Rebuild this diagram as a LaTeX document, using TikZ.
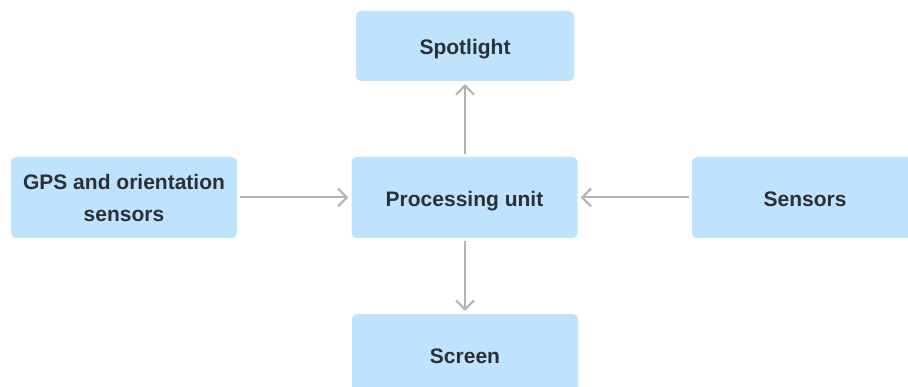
\documentclass[tikz,border=0pt]{standalone}
\usepackage{fontspec}
\setmainfont{Liberation Sans}
\usepackage{tikz}
\usetikzlibrary{positioning, arrows.meta}

\definecolor{boxblue}{HTML}{BFE3FD}
\definecolor{boxtext}{HTML}{2B3038}
\definecolor{arrgray}{HTML}{B4B4B4}

\begin{document}
\begin{tikzpicture}[
  x=1pt, y=1pt,
  >={Straight Barb[length=9pt, width=18pt]},
  item/.style={fill=boxblue, rounded corners=5pt, minimum width=226pt,
    minimum height=81pt, align=center, text=boxtext,
    font=\fontsize{21}{32}\selectfont\bfseries, inner sep=0pt},
  oneline/.style={text height=18pt, text depth=0pt},
  arr/.style={->, line width=2pt, arrgray, shorten <=3pt, shorten >=3pt},
]

% --- Canvas ---
\useasboundingbox (0,0) rectangle (908,-387);
\clip (0,0) rectangle (908,-387);

% --- Boxes ---
\node[item, oneline] (proc) at (464.5,-197.5) {Processing unit};
\node[item, oneline, minimum width=218pt, minimum height=70pt] (spot)
  at (465,-46) {Spotlight};
\node[item] (gps) at (124,-197.5) {GPS and orientation\\sensors};
\node[item, oneline] (sens) at (805,-197.5) {Sensors};
\node[item, oneline] (screen) at (465,-354.5) {Screen};

% --- Arrows ---
\draw[arr] (gps.east) -- (proc.west);
\draw[arr] (sens.west) -- (proc.east);
\draw[arr] (proc.north -| spot.south) -- (spot.south);
\draw[arr] (proc.south -| screen.north) -- (screen.north);

\end{tikzpicture}
\end{document}
